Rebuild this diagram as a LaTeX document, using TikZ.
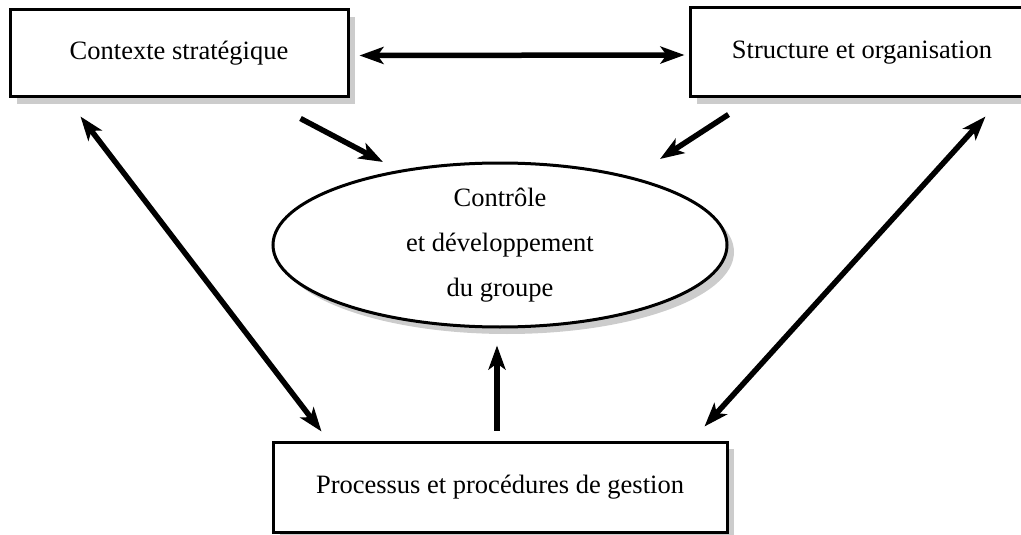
\documentclass[tikz,border=0pt]{standalone}
\usepackage{fontspec}
\setmainfont{Liberation Serif}
\usetikzlibrary{arrows.meta,shapes.geometric,shadows,calc}
\begin{document}
\begin{tikzpicture}[x=1pt,y=-1pt,
  box/.style={draw, line width=3pt, fill=white, inner sep=0pt,
    drop shadow={shadow xshift=7pt, shadow yshift=-7pt, fill=black!20, opacity=1},
    font=\fontsize{26.5}{45}\selectfont, align=center},
  tip/.style={Stealth[length=24pt,width=17pt,inset=6pt]},
  conn/.style={line width=5.5pt, -{Stealth[length=24pt,width=17pt,inset=6pt]}},
  dconn/.style={line width=5.5pt, {Stealth[length=24pt,width=17pt,inset=6pt]}-{Stealth[length=24pt,width=17pt,inset=6pt]}}]
\useasboundingbox (0,0) rectangle (1021,535);
\node[box, minimum width=338pt, minimum height=87pt] (ctx) at (179,53.5) {Contexte stratégique};
\node[box, minimum width=344pt, minimum height=89pt] (str) at (862,52.5) {Structure et organisation};
\node[box, ellipse, minimum width=454pt, minimum height=164pt] (ell) at (500,245) {Contrôle\\et développement\\du groupe};
\node[box, minimum width=454pt, minimum height=90pt] (proc) at (500,487) {Processus et procédures de gestion};
\draw[dconn] ($(ctx.east)+(10,2)$) -- ($(str.west)+(-4,2.5)$);
\draw[dconn] ($(ctx.south west)+(72,18)$) -- ($(proc.north west)+(50,-9)$);
\draw[dconn] ($(str.south west)+(297,18)$) -- ($(proc.north east)+(-24,-14)$);
\draw[conn] ($(ctx.south west)+(292,20)$) -- ($(ell.center)+(-117,-83)$);
\draw[conn] ($(str.south west)+(40,16)$) -- ($(ell.center)+(160,-86)$);
\draw[conn] ($(proc.north)+(-3,-10)$) -- ($(ell.south)+(-3,17)$);
\end{tikzpicture}
\end{document}
